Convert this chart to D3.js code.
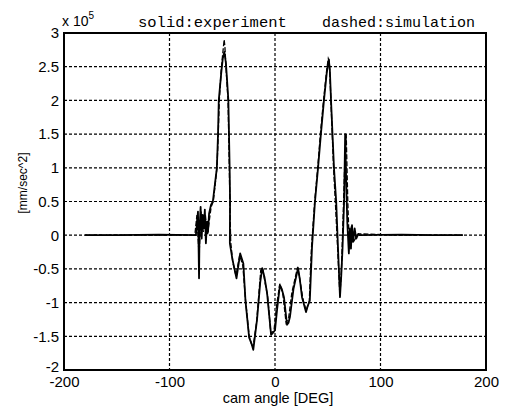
<!DOCTYPE html>
<html><head><meta charset="utf-8">
<script src="https://cdn.jsdelivr.net/npm/d3@7"></script>
<style>body{margin:0;background:#fff}svg{display:block}</style>
</head><body>
<script>
// ---- data (values in units of 10^5 mm/sec^2) ----
const xTicks = [-200, -100, 0, 100, 200];
const yTicks = [-2, -1.5, -1, -0.5, 0, 0.5, 1, 1.5, 2, 2.5, 3];
const yTickLabels = ["-2", "-1.5", "-1", "-0.5", "0", "0.5", "1", "1.5", "2", "2.5", "3"];
const titleSolid = "solid:experiment";
const titleDashed = "dashed:simulation";
const xLabel = "cam angle [DEG]";
const yLabel = "[mm/sec^2]";

const expX = [-180,-150,-110,-75,-73,-72.5,-72,-71.5,-70.5,-69.5,-68.5,-67.5,-66.5,-65.5,-64.5,-63.5,-62.5,-60.7,-58.9,-57,-55.1,-54,-53.3,-51,-49.5,-48,-46.5,-44.2,-43,-42.6,-42.8,-40.2,-36.5,-33,-30,-28,-24.5,-22,-20.6,-17,-14,-12.1,-10,-7.5,-3.7,-2,0,2,4.7,6.5,8.5,11.4,12.8,14.2,17.5,21.8,23.5,25.6,29.4,31,33,35.1,37.9,40.8,43.5,46.4,49,51,52,53.1,55.9,58,60,61.6,62.8,64,65.5,66.5,67.5,68.5,70,71,72,73,74,75.5,77,79,80,120,150,178];
const expY = [0,0,0.01,0,0.35,-0.1,-0.64,0.1,0.42,-0.05,0.3,0.1,0.38,-0.12,0.2,0.05,0.32,0.45,0.5,0.75,1.0,1.5,2.0,2.4,2.62,2.72,2.55,2.0,1.0,0.5,-0.12,-0.37,-0.64,-0.27,-0.42,-0.97,-1.52,-1.62,-1.7,-1.25,-0.7,-0.49,-0.62,-0.86,-1.48,-1.45,-1.41,-1.1,-0.74,-0.8,-0.92,-1.33,-1.3,-1.21,-0.8,-0.49,-0.65,-0.92,-1.14,-1.05,-0.97,-0.17,0.5,1.0,1.5,2.0,2.4,2.61,2.45,2.0,1.0,0.5,-0.3,-0.92,-0.6,-0.2,0.5,1.5,0.8,0.2,-0.27,0.1,-0.2,0.15,-0.1,0.1,-0.05,0.02,0,0.01,0,0];

const simX = [-180,-120,-76,-74,-72,-70,-68,-66,-64,-62,-60.5,-58.5,-56.5,-55,-53.8,-52.8,-51,-49.5,-48.2,-47.5,-46.5,-44.5,-43.3,-42.7,-42,-40,-37,-33.5,-30.5,-28,-24.5,-21,-17.5,-13.5,-11.8,-9.5,-7,-4,-1,1.5,4.5,7.5,10.5,13,16,21.5,24,26.5,29.5,32.5,34.5,37.5,40.5,43,46,49,50.5,51.5,53,55.5,57.5,60,61.5,63,66,67.5,69,70.5,72.5,75,79,120,178];
const simY = [0,0,0,0.3,-0.3,0.35,0.05,0.3,0,0.25,0.42,0.5,0.78,1.0,1.5,2.0,2.45,2.7,2.9,2.8,2.5,2.0,1.0,0.4,-0.1,-0.4,-0.6,-0.3,-0.45,-0.95,-1.5,-1.68,-1.3,-0.52,-0.48,-0.7,-0.9,-1.45,-1.42,-1.05,-0.72,-0.88,-1.3,-1.22,-0.85,-0.47,-0.7,-0.95,-1.12,-0.98,-0.2,0.48,1.0,1.5,2.0,2.45,2.62,2.58,2.0,1.0,0.4,-0.4,-0.9,-0.5,1.0,1.5,0.5,-0.2,0.15,-0.08,0.02,0,0];

// ---- layout ----
const W = 510, H = 409;
const m = {left: 64, right: 24, top: 33, bottom: 39};
const svg = d3.select("body").append("svg").attr("width", W).attr("height", H)
  .style("font-family", "'Liberation Sans', Arial, sans-serif");

const x = d3.scaleLinear().domain([-200, 200]).range([m.left, W - m.right]);
const y = d3.scaleLinear().domain([-2, 3]).range([H - m.bottom, m.top]);

// grid
const grid = svg.append("g").attr("stroke", "#000").attr("stroke-width", 1.2)
  .attr("stroke-dasharray", "3,2");
grid.selectAll("line.h").data(yTicks.filter(v => v > -2 && v < 3)).join("line")
  .attr("x1", m.left).attr("x2", W - m.right)
  .attr("y1", d => y(d)).attr("y2", d => y(d));
grid.selectAll("line.v").data(xTicks.filter(v => v > -200 && v < 200)).join("line")
  .attr("y1", m.top).attr("y2", H - m.bottom)
  .attr("x1", d => x(d)).attr("x2", d => x(d));

// axes (tick labels via d3 axes)
const xAxis = d3.axisBottom(x).tickValues(xTicks).tickSize(0).tickPadding(6)
  .tickFormat(d => String(d));
const gx = svg.append("g").attr("transform", `translate(0,${H - m.bottom})`).call(xAxis);
gx.select(".domain").remove();
gx.selectAll("text").attr("font-size", 15).attr("fill", "#000")
  .attr("font-family", "'Liberation Sans', Arial, sans-serif");

const yAxis = d3.axisLeft(y).tickValues(yTicks).tickSize(0).tickPadding(5)
  .tickFormat((d, i) => yTickLabels[i]);
const gy = svg.append("g").attr("transform", `translate(${m.left},0)`).call(yAxis);
gy.select(".domain").remove();
gy.selectAll("text").attr("font-size", 15).attr("fill", "#000")
  .attr("font-family", "'Liberation Sans', Arial, sans-serif");
// lowest y label sits slightly up, as in the reference
gy.selectAll("text").filter(d => d === -2).attr("dy", "0.1em");

// lines
const line = d3.line().x(d => x(d[0])).y(d => y(d[1]));
svg.append("path").datum(simX.map((v, i) => [v, simY[i]]))
  .attr("d", line).attr("fill", "none").attr("stroke", "#000")
  .attr("stroke-width", 1.3).attr("stroke-dasharray", "5,2");
svg.append("path").datum(expX.map((v, i) => [v, expY[i]]))
  .attr("d", line).attr("fill", "none").attr("stroke", "#000")
  .attr("stroke-width", 1.8).attr("stroke-linejoin", "round");

// box
svg.append("rect").attr("x", m.left).attr("y", m.top)
  .attr("width", W - m.left - m.right).attr("height", H - m.top - m.bottom)
  .attr("fill", "none").attr("stroke", "#000").attr("stroke-width", 2);

// exponent label
const ex = svg.append("text").attr("x", 62).attr("y", 26).attr("font-size", 14).attr("fill", "#000");
ex.append("tspan").text("x 10");
ex.append("tspan").attr("dy", -7).attr("font-size", 10).text("5");

// title
const mono = "'Liberation Mono', 'DejaVu Sans Mono', monospace";
svg.append("text").attr("x", 138).attr("y", 27).attr("font-family", mono)
  .attr("font-size", 15.5).attr("fill", "#000").text(titleSolid);
svg.append("text").attr("x", 322).attr("y", 27).attr("font-family", mono)
  .attr("font-size", 15).attr("fill", "#000").text(titleDashed);

// axis labels
svg.append("text").attr("x", 278).attr("y", 403).attr("text-anchor", "middle")
  .attr("font-size", 14.5).attr("fill", "#000").text(xLabel);
svg.append("text").attr("transform", "translate(27,183) rotate(-90)")
  .attr("text-anchor", "middle").attr("font-size", 12).attr("fill", "#000").text(yLabel);
</script>
</body></html>
